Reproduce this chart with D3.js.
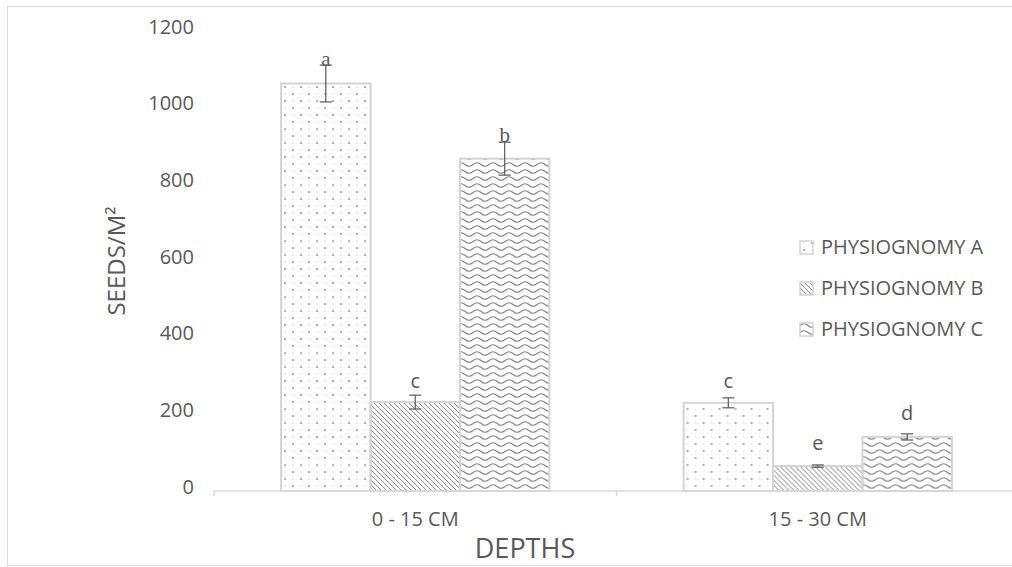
<!DOCTYPE html>
<meta charset="utf-8">
<style>
body { margin: 0; background: #fff; }
text { font-family: "Open Sans", sans-serif; fill: #595959; }
</style>
<svg width="1012" height="567"></svg>
<script src="https://cdn.jsdelivr.net/npm/d3@7/dist/d3.min.js"></script>
<script>
// data
var depths = ["0 - 15 CM", "15 - 30 CM"];
var series = ["PHYSIOGNOMY A", "PHYSIOGNOMY B", "PHYSIOGNOMY C"];
var valuesA = [1063, 230];
var valuesB = [232, 65];
var valuesC = [867, 141];
var errA = [48, 13];
var errB = [18, 3];
var errC = [43, 8];
// significance letters and the height (in seeds/m2) of their baseline
var lettersA = ["a", "c"], lettersB = ["c", "e"], lettersC = ["b", "d"];
var letterAtA = [1109, 269], letterAtB = [269, 107], letterAtC = [910, 185];
var yTicks = [0, 200, 400, 600, 800, 1000, 1200];

var svg = d3.select("svg");

//outer chart border
svg.append("rect")
    .attr("x", 7.5).attr("y", 6.5)
    .attr("width", 1010).attr("height", 559)
    .attr("fill", "none").attr("stroke", "#d9d9d9");

//patterns
var defs = svg.append("defs");
var pA = defs.append("pattern").attr("id", "patA")
    .attr("patternUnits", "userSpaceOnUse").attr("width", 16).attr("height", 14);
pA.append("circle").attr("cx", 4).attr("cy", 3).attr("r", 0.9).attr("fill", "#888");
pA.append("circle").attr("cx", 12).attr("cy", 10).attr("r", 0.9).attr("fill", "#888");
pA.append("circle").attr("cx", 12).attr("cy", 3).attr("r", 0.5).attr("fill", "#aaa");
pA.append("circle").attr("cx", 4).attr("cy", 10).attr("r", 0.5).attr("fill", "#aaa");

var pB = defs.append("pattern").attr("id", "patB")
    .attr("patternUnits", "userSpaceOnUse").attr("width", 5).attr("height", 5);
pB.append("path").attr("d", "M-1,-1L6,6M-1,4L1,6M4,-1L6,1")
    .attr("stroke", "#888").attr("stroke-width", 1);

var pC = defs.append("pattern").attr("id", "patC")
    .attr("patternUnits", "userSpaceOnUse").attr("width", 16).attr("height", 7);
pC.append("path").attr("d", "M0,3.5Q4,0 8,3.5T16,3.5")
    .attr("fill", "none").attr("stroke", "#808080").attr("stroke-width", 1.1);

var fills = ["url(#patA)", "url(#patB)", "url(#patC)"];

//scales
var x0 = d3.scaleBand().domain(depths).range([214, 1019]).paddingInner(1 / 3).paddingOuter(1 / 6);
var x1 = d3.scaleBand().domain(series).range([0, x0.bandwidth()]);
var y = d3.scaleLinear().domain([0, 1200]).range([491, 31]);

var rows = depths.map(function(d, i) {
  return {
    depth: d,
    bars: [
      {s: series[0], v: valuesA[i], e: errA[i], l: lettersA[i], at: letterAtA[i], f: fills[0], serif: i == 0},
      {s: series[1], v: valuesB[i], e: errB[i], l: lettersB[i], at: letterAtB[i], f: fills[1], serif: false},
      {s: series[2], v: valuesC[i], e: errC[i], l: lettersC[i], at: letterAtC[i], f: fills[2], serif: i == 0}
    ]
  };
});

//y axis labels
var yAxis = svg.append("g")
    .attr("transform", "translate(194,0)")
    .call(d3.axisLeft(y).tickValues(yTicks).tickFormat(d3.format("d")).tickSize(0).tickPadding(0));
yAxis.select(".domain").remove();
yAxis.selectAll("text")
    .style("font-family", "'Open Sans', sans-serif")
    .style("font-size", "20px")
    .attr("fill", "#595959")
    .attr("dy", "0.1em");

//bars
var groups = svg.selectAll(".grp")
    .data(rows)
    .enter().append("g")
    .attr("class", "grp")
    .attr("transform", function(d) { return "translate(" + x0(d.depth) + ",0)"; });

groups.selectAll("rect")
    .data(function(d) { return d.bars; })
    .enter().append("rect")
    .attr("x", function(d) { return x1(d.s); })
    .attr("y", function(d) { return y(d.v); })
    .attr("width", x1.bandwidth())
    .attr("height", function(d) { return y(0) - y(d.v); })
    .attr("fill", function(d) { return d.f; })
    .attr("stroke", "#d4d4d4")
    .attr("stroke-width", 2);

//error bars
var eb = groups.selectAll(".err")
    .data(function(d) { return d.bars; })
    .enter().append("g")
    .attr("class", "err")
    .attr("transform", function(d) { return "translate(" + (x1(d.s) + x1.bandwidth() / 2) + ",0)"; })
    .attr("stroke", "#595959").attr("stroke-width", 1.2);
eb.append("line")
    .attr("y1", function(d) { return y(d.v - d.e); })
    .attr("y2", function(d) { return y(d.v + d.e); });
eb.append("line").attr("x1", -6).attr("x2", 6)
    .attr("y1", function(d) { return y(d.v - d.e); })
    .attr("y2", function(d) { return y(d.v - d.e); });
eb.append("line").attr("x1", -6).attr("x2", 6)
    .attr("y1", function(d) { return y(d.v + d.e); })
    .attr("y2", function(d) { return y(d.v + d.e); });

//letters
groups.selectAll(".lab")
    .data(function(d) { return d.bars; })
    .enter().append("text")
    .attr("class", "lab")
    .attr("x", function(d) { return x1(d.s) + x1.bandwidth() / 2; })
    .attr("y", function(d) { return y(d.at); })
    .attr("text-anchor", "middle")
    .style("font-family", function(d) { return d.serif ? "'Liberation Serif', serif" : "'Open Sans', sans-serif"; })
    .style("font-size", function(d) { return d.serif ? "21px" : "20px"; })
    .text(function(d) { return d.l; });

//x axis
var xAxis = svg.append("g").attr("transform", "translate(0,491)");
xAxis.append("line")
    .attr("x1", x0.range()[0]).attr("x2", x0.range()[1])
    .attr("stroke", "#d9d9d9").attr("stroke-width", 1.5);
xAxis.selectAll(".tk")
    .data([x0.range()[0], x0.range()[0] + x0.step(), x0.range()[1]])
    .enter().append("line")
    .attr("x1", function(d) { return d; }).attr("x2", function(d) { return d; })
    .attr("y1", 0).attr("y2", 5)
    .attr("stroke", "#d9d9d9").attr("stroke-width", 1.5);
xAxis.selectAll(".cat")
    .data(depths)
    .enter().append("text")
    .attr("x", function(d) { return x0(d) + x0.bandwidth() / 2; })
    .attr("y", 35)
    .attr("text-anchor", "middle")
    .style("font-size", "20px")
    .text(function(d) { return d; });

//axis titles
svg.append("text")
    .attr("x", 525).attr("y", 558)
    .attr("text-anchor", "middle")
    .style("font-size", "27px")
    .text("DEPTHS");

svg.append("text")
    .attr("transform", "translate(125,261) rotate(-90)")
    .attr("text-anchor", "middle")
    .style("font-size", "24px")
    .text("SEEDS/M²");

//legend
var legend = svg.append("g")
    .selectAll("g")
    .data(series)
    .enter().append("g")
    .attr("transform", function(d, i) { return "translate(800," + (247 + i * 41) + ")"; });
legend.append("rect")
    .attr("x", 0).attr("y", -6)
    .attr("width", 13).attr("height", 13)
    .attr("fill", function(d, i) { return fills[i]; })
    .attr("stroke", "#d4d4d4").attr("stroke-width", 1.5);
legend.append("text")
    .attr("x", 21)
    .attr("dy", "0.36em")
    .style("font-size", "20px")
    .text(function(d) { return d; });
</script>
